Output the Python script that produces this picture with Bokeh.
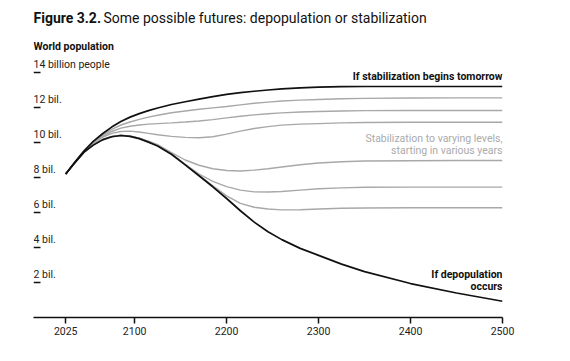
from bokeh.plotting import figure
from bokeh.models import FixedTicker, Range1d
from bokeh.core.properties import value
from bokeh.embed import file_html
from bokeh.resources import INLINE

# ---- data (billions of people) ----
years = [2025, 2035, 2045, 2055, 2065, 2075, 2085, 2095, 2105, 2115,
         2125, 2140, 2155, 2170, 2185, 2200, 2215, 2230, 2245, 2260,
         2280, 2300, 2325, 2350, 2400, 2450, 2500]

stabilize_tomorrow = [8.2, 8.88, 9.52, 10.06, 10.5, 10.88, 11.2, 11.45, 11.65, 11.82,
                      11.97, 12.17, 12.33, 12.48, 12.62, 12.75, 12.85, 12.93, 13.0, 13.06,
                      13.12, 13.16, 13.19, 13.2, 13.2, 13.2, 13.2]
stab_level_1 = [8.2, 8.86, 9.5, 10.02, 10.42, 10.75, 11.0, 11.17, 11.32, 11.45,
                11.56, 11.7, 11.8, 11.9, 11.98, 12.06, 12.15, 12.24, 12.31, 12.37,
                12.42, 12.46, 12.5, 12.52, 12.54, 12.55, 12.55]
stab_level_2 = [8.2, 8.85, 9.48, 9.98, 10.35, 10.63, 10.82, 10.93, 11.0, 11.05,
                11.08, 11.12, 11.17, 11.23, 11.31, 11.41, 11.5, 11.58, 11.64, 11.69,
                11.74, 11.77, 11.8, 11.82, 11.83, 11.83, 11.83]
stab_level_3 = [8.2, 8.85, 9.47, 9.95, 10.3, 10.52, 10.63, 10.65, 10.6, 10.52,
                10.44, 10.35, 10.29, 10.27, 10.33, 10.48, 10.65, 10.8, 10.91, 10.99,
                11.05, 11.08, 11.12, 11.14, 11.16, 11.16, 11.16]
stab_level_4 = [8.2, 8.84, 9.45, 9.9, 10.18, 10.35, 10.42, 10.37, 10.25, 10.08,
                9.88, 9.42, 9.0, 8.7, 8.5, 8.4, 8.37, 8.42, 8.5, 8.6,
                8.73, 8.83, 8.9, 8.94, 8.96, 8.97, 8.97]
stab_level_5 = [8.2, 8.84, 9.45, 9.86, 10.16, 10.34, 10.41, 10.36, 10.24, 10.05,
                9.83, 9.36, 8.76, 8.2, 7.78, 7.48, 7.28, 7.18, 7.17, 7.2,
                7.28, 7.36, 7.41, 7.44, 7.45, 7.45, 7.45]
stab_level_6 = [8.2, 8.84, 9.45, 9.85, 10.15, 10.33, 10.4, 10.35, 10.23, 10.03,
                9.81, 9.34, 8.73, 8.12, 7.52, 6.95, 6.52, 6.3, 6.2, 6.15,
                6.16, 6.2, 6.24, 6.26, 6.27, 6.27, 6.27]
depopulation = [8.2, 8.84, 9.45, 9.85, 10.15, 10.33, 10.4, 10.35, 10.22, 10.02,
                9.8, 9.33, 8.72, 8.1, 7.47, 6.8, 6.1, 5.45, 4.9, 4.45,
                3.95, 3.55, 3.05, 2.62, 1.94, 1.4, 0.93]

gray_series = [stab_level_1, stab_level_2, stab_level_3,
               stab_level_4, stab_level_5, stab_level_6]

y_tick_values = [2, 4, 6, 8, 10, 12, 14]
y_tick_labels = ["2 bil.", "4 bil.", "6 bil.", "8 bil.", "10 bil.", "12 bil.",
                 "14 billion people"]
x_tick_values = [2025, 2100, 2200, 2300, 2400, 2500]

title_bold = "Figure 3.2."
title_rest = "Some possible futures: depopulation or stabilization"
subtitle = "World population"

# ---- styling ----
FONT = value("Roboto")
DARK = "#111111"
GRAY = "#a8a8a8"
GRAY_TEXT = "#aaaaaa"
PX_PER_BIL = 17.5
FRAME_H = 309
X0, X1 = 1990, 2500
PX_PER_YEAR = 469 / (X1 - X0)

p = figure(width=562, height=353,
           x_range=Range1d(X0, X1),
           y_range=Range1d(0, FRAME_H / PX_PER_BIL),
           output_backend="svg", toolbar_location=None,
           y_axis_location=None,
           min_border_left=33, min_border_right=60,
           min_border_top=8, min_border_bottom=36)
p.outline_line_color = None
p.xgrid.visible = False
p.ygrid.visible = False
p.background_fill_color = "white"
p.border_fill_color = "white"

# x axis
xa = p.xaxis[0]
xa.ticker = FixedTicker(ticks=x_tick_values)
xa.axis_line_color = DARK
xa.axis_line_width = 1.5
xa.major_tick_line_color = DARK
xa.major_tick_line_width = 1.5
xa.major_tick_out = 6
xa.major_tick_in = 0
xa.minor_tick_line_color = None
xa.major_label_text_font = "Roboto"
xa.major_label_text_font_size = "10.5px"
xa.major_label_text_color = "#222222"
xa.major_label_standoff = 3

# short underline tick marks for the y values
tick_len = 7 / PX_PER_YEAR
p.segment(x0=[X0] * len(y_tick_values), y0=y_tick_values,
          x1=[X0 + tick_len] * len(y_tick_values), y1=y_tick_values,
          line_color=DARK, line_width=1.5)

# lines
for s in gray_series:
    p.line(years, s, line_color=GRAY, line_width=1.4)
p.line(years, depopulation, line_color=DARK, line_width=1.7)
p.line(years, stabilize_tomorrow, line_color=DARK, line_width=1.7)

# y tick labels (above each underline)
p.text(x=[X0] * len(y_tick_values), y=y_tick_values, text=y_tick_labels,
       text_font=FONT, text_font_size="10.5px", text_color="#222222",
       text_align="left", text_baseline="middle", y_offset=-8)

# title and subtitle
p.text(x=[X0], y=[17.14], text=[title_bold], text_font=FONT,
       text_font_style="bold", text_font_size="14px", text_color=DARK,
       text_align="left", text_baseline="middle")
p.text(x=[X0], y=[17.14], text=[title_rest], text_font=FONT,
       text_font_size="14px", text_color=DARK, x_offset=70,
       text_align="left", text_baseline="middle")
p.text(x=[X0], y=[15.5], text=[subtitle], text_font=FONT,
       text_font_style="bold", text_font_size="10.5px", text_color=DARK,
       text_align="left", text_baseline="middle")

# annotations
p.text(x=[X1], y=[13.8], text=["If stabilization begins tomorrow"],
       text_font=FONT, text_font_style="bold", text_font_size="10.5px",
       text_color=DARK, text_align="right", text_baseline="middle")
p.text(x=[X1, X1], y=[10.23, 9.54],
       text=["Stabilization to varying levels,", "starting in various years"],
       text_font=FONT, text_font_size="10.5px", text_color=GRAY_TEXT,
       text_align="right", text_baseline="middle")
p.text(x=[X1, X1], y=[2.43, 1.77], text=["If depopulation", "occurs"],
       text_font=FONT, text_font_style="bold", text_font_size="10.5px",
       text_color=DARK, text_align="right", text_baseline="middle")

open("out.html", "w").write(file_html(p, INLINE))
